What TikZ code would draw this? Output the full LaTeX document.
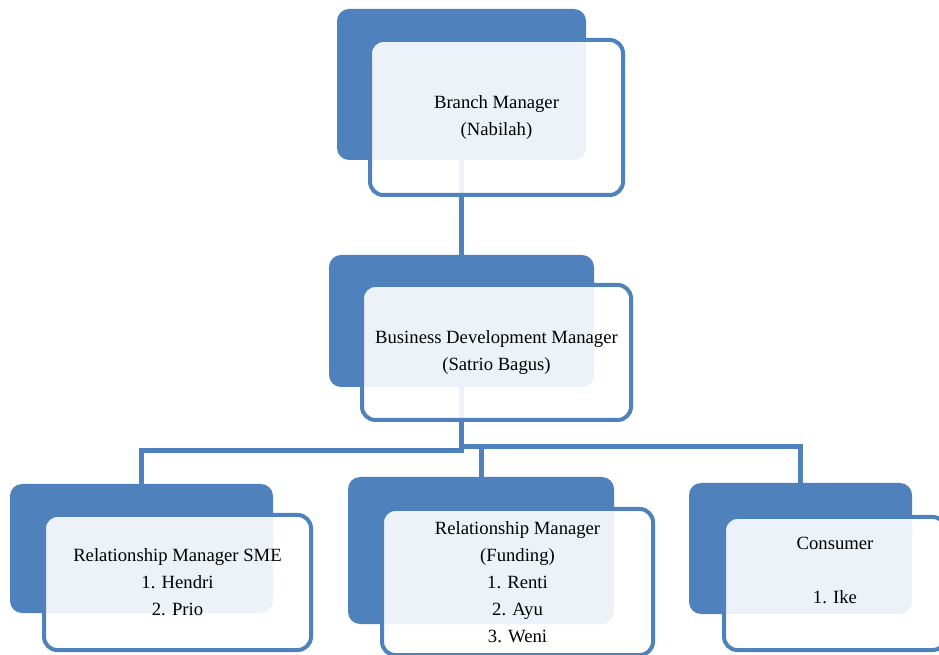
\documentclass[tikz,border=0pt]{standalone}
\usepackage{fontspec}
\setmainfont{Liberation Serif}
\definecolor{ofblue}{HTML}{4F81BD}
\begin{document}
\begin{tikzpicture}[x=0.75pt,y=-0.75pt,
  backbox/.style={fill=ofblue, rounded corners=9pt, inner sep=0pt, draw=none},
  frontbox/.style={draw=ofblue, line width=3pt, fill=white, fill opacity=0.9, text opacity=1,
    rounded corners=10pt, align=center, font=\fontsize{14}{20.25}\selectfont, inner sep=0pt},
  conn/.style={draw=ofblue, line width=3.75pt}]
\useasboundingbox (0,0) rectangle (939,655);
\clip (0,0) rectangle (939,655);
\fill[white] (0,0) rectangle (939,655);
% back boxes
\node[backbox, minimum width=186.75pt, minimum height=113.25pt] (b1) at (461.5,84.5) {};
\node[backbox, minimum width=198.75pt, minimum height=99pt] (b2) at (461.5,321) {};
\node[backbox, minimum width=197.25pt, minimum height=96.75pt] (b3) at (141.5,548.5) {};
\node[backbox, minimum width=199.5pt, minimum height=110.25pt] (b4) at (481,550.5) {};
\node[backbox, minimum width=167.25pt, minimum height=98.25pt] (b5) at (800.5,548.5) {};
% connectors
\coordinate (barl) at (461.5,451);
\coordinate (barr) at (461.5,447);
\draw[conn] (b1.south) -- (b2.north);
\draw[conn] (b2.south) -- (b2.south |- barl) -| (b3.north);
\draw[conn] (b2.south) -- (b2.south |- barr) -| (b4.north);
\draw[conn] (b2.south) -- (b2.south |- barr) -| (b5.north);
% front boxes
\node[frontbox, minimum width=189.75pt, minimum height=116.25pt] (f1) at (496.5,117.5)
  {Branch Manager\\(Nabilah)};
\node[frontbox, minimum width=201.75pt, minimum height=101.25pt] (f2) at (496.5,352.5)
  {Business Development Manager\\(Satrio Bagus)};
\node[frontbox, minimum width=200.25pt, minimum height=101.25pt] (f3) at (177.5,582.5)
  {Relationship Manager SME\\1. Hendri\\2. Prio};
\node[frontbox, minimum width=203.25pt, minimum height=109.5pt] (f4) at (517.5,582)
  {Relationship Manager\\(Funding)\\1. Renti\\2. Ayu\\3. Weni};
\node[frontbox, minimum width=166.5pt, minimum height=99.75pt] (f5) at (835,583.5)
  {Consumer\\\mbox{}\\1. Ike\\\mbox{}};
\end{tikzpicture}
\end{document}
